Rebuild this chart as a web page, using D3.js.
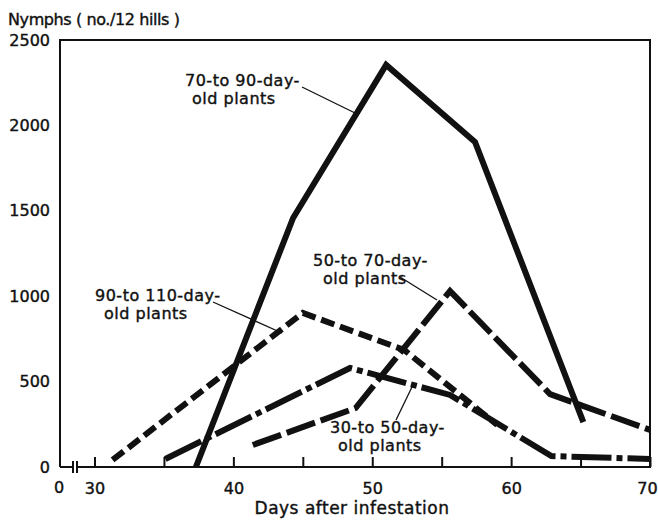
<!DOCTYPE html>
<html>
<head>
<meta charset="utf-8">
<script src="https://cdn.jsdelivr.net/npm/d3@7"></script>
<style>
  body { margin: 0; background: #fff; }
  svg text { font-family: "DejaVu Sans", sans-serif; fill: #111; stroke: #111; stroke-width: 0.4px; }
</style>
</head>
<body>
<div class="container"></div>
<script>
// days after infestation / nymphs per 12 hills
const days70to90 = [37.3, 44.3, 51.0, 57.4, 65.2]
const nymphs70to90 = [0, 1458, 2354, 1903, 263]

const days50to70 = [41.4, 48.8, 55.6, 62.8, 70.0]
const nymphs50to70 = [129, 345, 1030, 427, 217]

const days30to50 = [35.1, 48.4, 55.6, 62.9, 70.0]
const nymphs30to50 = [47, 580, 422, 64, 47]

const days90to110 = [31.3, 45.0, 52.3, 59.0]
const nymphs90to110 = [41, 902, 685, 246]

const xTicks = [30, 40, 50, 60, 70]
const xMinorTicks = [30, 35, 40, 45, 50, 55, 60, 65, 70]
const yTicks = [0, 500, 1000, 1500, 2000, 2500]

const w = 658
const h = 520
const padLeft = 60, padRight = 650, padTop = 40, padBottom = 467
const x0 = 94.5   // pixel of day 30 (axis is broken before it)

const xScale = d3.scaleLinear().domain([30, 70]).range([x0, padRight])
const yScale = d3.scaleLinear().domain([0, 2500]).range([padBottom, padTop])

const svg = d3.select(".container")
              .append("svg")
              .attr("width", w)
              .attr("height", h)

// frame: left, top, right
svg.append("path")
   .attr("d", `M${padLeft},${padBottom}V${padTop}H${padRight}V${padBottom}`)
   .attr("fill", "none")
   .attr("stroke", "#111")
   .attr("stroke-width", 2)

// bottom axis line with a break near the origin
svg.append("line").attr("x1", padLeft).attr("x2", 73).attr("y1", padBottom).attr("y2", padBottom)
   .attr("stroke", "#111").attr("stroke-width", 2)
svg.append("line").attr("x1", 77).attr("x2", padRight + 1).attr("y1", padBottom).attr("y2", padBottom)
   .attr("stroke", "#111").attr("stroke-width", 2)
svg.selectAll(".brk")
   .data([73, 77])
   .enter()
   .append("line")
   .attr("class", "brk")
   .attr("x1", d => d).attr("x2", d => d)
   .attr("y1", padBottom - 6).attr("y2", padBottom + 6)
   .attr("stroke", "#111").attr("stroke-width", 2)

// inward ticks on x
const xAxisMinor = d3.axisBottom(xScale).tickValues(xMinorTicks).tickSize(-10).tickFormat("")
svg.append("g")
   .attr("transform", `translate(0, ${padBottom})`)
   .call(xAxisMinor)
   .call(g => g.select(".domain").remove())
   .call(g => g.selectAll("line").attr("stroke", "#111").attr("stroke-width", 2))

const xAxis = d3.axisBottom(xScale).tickValues(xTicks).tickSize(0).tickPadding(16)
svg.append("g")
   .attr("transform", `translate(0, ${padBottom})`)
   .call(xAxis)
   .call(g => g.select(".domain").remove())
   .call(g => g.selectAll("text").attr("font-size", 16).attr("font-family", "DejaVu Sans").attr("fill", "#111")
                .attr("dx", d => d == 70 ? -3 : 0))

// the "0" under the broken origin
svg.append("text").attr("x", 59).attr("y", 493).attr("text-anchor", "middle")
   .attr("font-size", 16).text("0")

const yAxis = d3.axisLeft(yScale).tickValues(yTicks).tickSize(0).tickPadding(10).tickFormat(d3.format("d"))
svg.append("g")
   .attr("transform", `translate(${padLeft}, 0)`)
   .call(yAxis)
   .call(g => g.select(".domain").remove())
   .call(g => g.selectAll("text").attr("font-size", 16).attr("font-family", "DejaVu Sans").attr("fill", "#111"))

// series
const line = d3.line()
               .x(d => xScale(d[0]))
               .y(d => yScale(d[1]))

const series = [
    { days: days90to110, vals: nymphs90to110, dash: "14,6" },
    { days: days30to50, vals: nymphs30to50, dash: "40,5,6,5" },
    { days: days50to70, vals: nymphs50to70, dash: "30,6" },
    { days: days70to90, vals: nymphs70to90, dash: null }
]

series.forEach(s => {
    svg.append("path")
       .datum(d3.zip(s.days, s.vals))
       .attr("d", line)
       .attr("fill", "none")
       .attr("stroke", "#111")
       .attr("stroke-width", 6)
       .attr("stroke-linejoin", "miter")
       .attr("stroke-dasharray", s.dash)
})

// annotations with leader lines
const notes = [
    { l1: "70-to 90-day-", l2: "old plants", x1: 185, x2: 192, y: 86, from: [302, 87], to: [355, 113] },
    { l1: "50-to 70-day-", l2: "old plants", x1: 313, x2: 323, y: 266, from: [400, 277], to: [437, 300] },
    { l1: "90-to 110-day-", l2: "old plants", x1: 95, x2: 104, y: 301, from: [213, 302], to: [282, 333] },
    { l1: "30-to 50-day-", l2: "old plants", x1: 330, x2: 338, y: 433, from: [396, 420], to: [412, 387] }
]

notes.forEach(n => {
    svg.append("text").attr("x", n.x1).attr("y", n.y)
       .attr("font-size", 16).attr("letter-spacing", 0.5).text(n.l1)
    svg.append("text").attr("x", n.x2).attr("y", n.y + 18)
       .attr("font-size", 16).attr("letter-spacing", 0.5).text(n.l2)
    svg.append("line")
       .attr("x1", n.from[0]).attr("y1", n.from[1])
       .attr("x2", n.to[0]).attr("y2", n.to[1])
       .attr("stroke", "#111").attr("stroke-width", 1.3)
})

// axis titles
svg.append("text").attr("x", 8).attr("y", 25).attr("font-size", 16).attr("letter-spacing", -0.4)
   .text("Nymphs ( no./12 hills )")
svg.append("text").attr("x", 352).attr("y", 514).attr("text-anchor", "middle")
   .attr("font-size", 17).attr("letter-spacing", 0.5).text("Days after infestation")
</script>
</body>
</html>
